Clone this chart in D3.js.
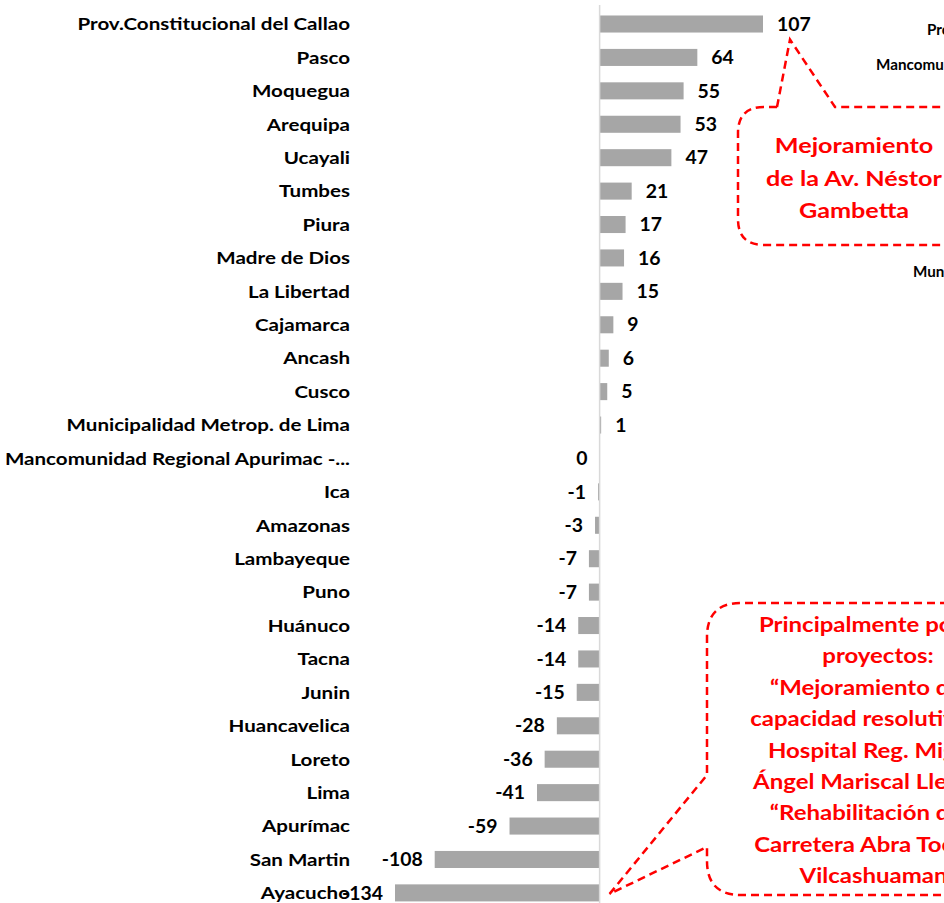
<!DOCTYPE html>
<html>
<head>
	<meta charset="utf-8">
	<style>
		body { margin: 0; background: #fff; overflow: hidden; }
		svg { display: block; font-family: Lato, 'Noto Sans', sans-serif; font-weight: bold; }
	</style>
</head>
<body>
	<div id="graph"></div>

	<script src="https://cdnjs.cloudflare.com/ajax/libs/d3/7.8.5/d3.min.js"></script>
	<script>
		const regions = [
			'Prov.Constitucional del Callao', 'Pasco', 'Moquegua', 'Arequipa', 'Ucayali',
			'Tumbes', 'Piura', 'Madre de Dios', 'La Libertad', 'Cajamarca', 'Ancash', 'Cusco',
			'Municipalidad Metrop. de Lima', 'Mancomunidad Regional Apurimac -...', 'Ica',
			'Amazonas', 'Lambayeque', 'Puno', 'Huánuco', 'Tacna', 'Junin', 'Huancavelica',
			'Loreto', 'Lima', 'Apurímac', 'San Martin', 'Ayacucho'
		];
		const values = [107, 64, 55, 53, 47, 21, 17, 16, 15, 9, 6, 5, 1, 0, -1, -3, -7, -7,
			-14, -14, -15, -28, -36, -41, -59, -108, -134];

		const note1 = ['Mejoramiento', 'de la Av. Néstor', 'Gambetta'];
		const note2 = [
			'Principalmente por los', 'proyectos:', '“Mejoramiento de la',
			'capacidad resolutiva del', 'Hospital Reg. Miguel', 'Ángel Mariscal Llerena”',
			'“Rehabilitación de la', 'Carretera Abra Toccto -', 'Vilcashuaman”'
		];
		// labels of the neighbouring chart, cut by the right edge
		const sideLabels = [
			{ text: 'Prov.Constitucional del Callao', x: 927, y: 35 },
			{ text: 'Mancomunidad Regional Apurimac', x: 876, y: 70 },
			{ text: 'Municipalidad Metrop. de Lima', x: 913, y: 277 }
		];

		const W = 944, H = 903;
		const data = regions.map((r, i) => ({ name: r, value: values[i] }));

		const svg = d3.select('#graph').append('svg')
			.attr('width', W).attr('height', H);

		const x = d3.scaleLinear()
			.domain([-134, 107])
			.range([395, 763]);

		const y = d3.scaleBand()
			.domain(regions)
			.range([7.3, 909.6])
			.paddingInner(0.49)
			.paddingOuter(0.245);

		// text stretched a bit wider, like the original Calibri
		const place = (px, py, sx) => `translate(${px},${py}) scale(${sx},1)`;

		// bars
		svg.append('g').selectAll('rect')
			.data(data)
			.join('rect')
			.attr('x', d => x(Math.min(0, d.value)))
			.attr('y', d => y(d.name))
			.attr('width', d => Math.abs(x(d.value) - x(0)))
			.attr('height', y.bandwidth())
			.attr('fill', '#a6a6a6');

		// zero axis
		const yAxis = d3.axisLeft(y).tickSize(0).tickFormat('');
		svg.append('g')
			.attr('transform', `translate(${x(0)},0)`)
			.call(yAxis)
			.call(g => g.select('.domain').attr('stroke', '#d9d9d9').attr('stroke-width', 1.5)
				.attr('d', `M0,5V${H}`));

		// value labels
		svg.append('g').selectAll('text')
			.data(data)
			.join('text')
			.attr('transform', d => place(d.value > 0 ? x(d.value) + 14 : x(d.value) - 12,
				y(d.name) + y.bandwidth() / 2, 1.05))
			.attr('dy', '0.36em')
			.attr('text-anchor', d => d.value > 0 ? 'start' : 'end')
			.attr('font-size', 18.5)
			.attr('fill', '#000')
			.text(d => d.value);

		// category labels
		svg.append('g').selectAll('text')
			.data(data)
			.join('text')
			.attr('transform', d => place(350, y(d.name) + y.bandwidth() / 2, 1.175))
			.attr('dy', '0.36em')
			.attr('text-anchor', 'end')
			.attr('font-size', 17.5)
			.attr('fill', '#000')
			.text(d => d.name);

		svg.append('g').selectAll('text')
			.data(sideLabels)
			.join('text')
			.attr('transform', d => place(d.x, d.y, 1.05))
			.attr('font-size', 14.5)
			.attr('fill', '#000')
			.text(d => d.text);

		// callouts
		const red = '#ff0000';
		const callout = (d) => svg.append('path')
			.attr('d', d)
			.attr('fill', 'none')
			.attr('stroke', red)
			.attr('stroke-width', 2.5)
			.attr('stroke-dasharray', '8,5');

		const tip1 = [x(107) + 27, y(regions[0]) + y.bandwidth() + 7];
		const b1 = { l: 738, t: 107, r: 985, b: 245, rad: 26 };
		callout(`M777,${b1.t} L${tip1[0]},${tip1[1]} L835,${b1.t} H${b1.r - b1.rad}
			M777,${b1.t} H${b1.l + b1.rad} Q${b1.l},${b1.t} ${b1.l},${b1.t + b1.rad}
			V${b1.b - b1.rad} Q${b1.l},${b1.b} ${b1.l + b1.rad},${b1.b} H${b1.r}`);

		const tip2 = [x(0) + 10, y('Ayacucho') + y.bandwidth() / 2 + 1];
		const b2 = { l: 707, t: 603, r: 1000, b: 895, rad: 34 };
		callout(`M${b2.r},${b2.t} H${b2.l + b2.rad} Q${b2.l},${b2.t} ${b2.l},${b2.t + b2.rad}
			V775 L${tip2[0]},${tip2[1]} L${b2.l},847 V${b2.b - b2.rad}
			Q${b2.l},${b2.b} ${b2.l + b2.rad},${b2.b} H${b2.r}`);

		svg.append('g').selectAll('text')
			.data(note1)
			.join('text')
			.attr('transform', (d, i) => place(854, 153 + i * 32.5, 1.2))
			.attr('text-anchor', 'middle')
			.attr('font-size', 21)
			.attr('fill', red)
			.text(d => d);

		svg.append('g').selectAll('text')
			.data(note2)
			.join('text')
			.attr('transform', (d, i) => place(878, 632 + i * 31.4, 1.17))
			.attr('text-anchor', 'middle')
			.attr('font-size', 20.5)
			.attr('fill', red)
			.text(d => d);
	</script>
</body>
</html>
